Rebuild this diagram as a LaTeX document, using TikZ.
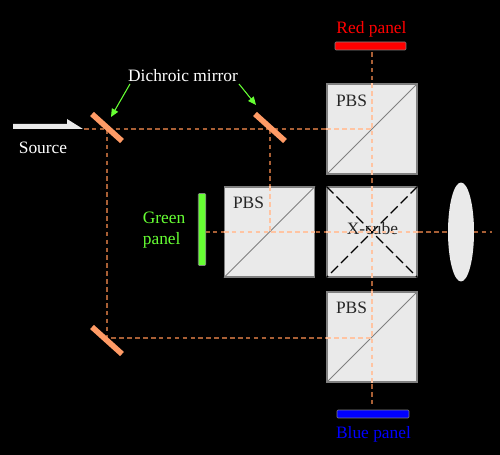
\documentclass[tikz,border=0pt]{standalone}
\usepackage{fontspec}
\setmainfont{Liberation Serif}
\usetikzlibrary{arrows.meta,shapes.geometric}
\definecolor{beamdark}{HTML}{A85F35}
\definecolor{beamlight}{HTML}{FFC4A2}
\definecolor{mirrorcol}{HTML}{FF9B66}
\definecolor{cubecol}{HTML}{EAEAEA}
\definecolor{edgecol}{HTML}{808080}
\definecolor{greencol}{HTML}{66FF33}
\begin{document}
\begin{tikzpicture}[x=0.02cm,y=-0.02cm]
\tikzset{
  label/.style={font=\fontsize{9.9pt}{11pt}\selectfont,inner sep=0pt,align=left},
  cubebox/.style={rectangle,draw=edgecol,fill=cubecol,line width=0.6pt,minimum size=1.8cm,inner sep=0pt},
  panel/.style={rectangle,rounded corners=0.5pt,draw=edgecol,line width=0.3pt,inner sep=0pt},
  mirror/.style={draw=mirrorcol,line width=3.2pt},
  beamout/.style={draw=beamdark,line width=0.6pt,dash pattern=on 2.6pt off 1.9pt},
  beamin/.style={draw=beamlight,line width=0.6pt,dash pattern=on 2.6pt off 1.9pt},
  pointer/.style={draw=greencol,line width=0.6pt,-{Triangle[length=4.6pt,width=4pt]}}
}
\fill[black] (0,0) rectangle (500,455);
\useasboundingbox (0,0) rectangle (500,455);
% beams under the cubes
\coordinate (in_a) at (84,129);
\coordinate (in_b) at (107,129);
\coordinate (in_c) at (270,129);
\coordinate (in_d) at (372,129);
\coordinate (low_a) at (107,338);
\coordinate (low_b) at (372,338);
\coordinate (mid_a) at (270,232);
\coordinate (mid_b) at (205,232);
\coordinate (mid_c) at (492,232);
\coordinate (top_a) at (372,52);
\coordinate (bot_a) at (372,407);
\draw[beamout] (in_a) -- (in_d);
\draw[beamout] (in_b) -- (low_a) -- (low_b);
\draw[beamout] (in_c) -- (mid_a);
\draw[beamout] (mid_b) -- (mid_c);
\draw[beamout] (top_a) -- (bot_a);
% cubes
\node[cubebox] (pbs_r) at (372,129) {};
\node[cubebox] (pbs_g) at (269.5,232) {};
\node[cubebox] (xcube) at (372,232) {};
\node[cubebox] (pbs_b) at (372,337) {};
\draw[edgecol,line width=0.45pt] (pbs_r.south west) -- (pbs_r.north east);
\draw[edgecol,line width=0.45pt] (pbs_g.south west) -- (pbs_g.north east);
\draw[edgecol,line width=0.45pt] (pbs_b.south west) -- (pbs_b.north east);
\draw[black,line width=0.75pt,dash pattern=on 5.6pt off 2.4pt] (xcube.north west) -- (xcube.south east);
\draw[black,line width=0.75pt,dash pattern=on 5.6pt off 2.4pt] (xcube.north east) -- (xcube.south west);
\node[label,text=black!85] (xcube_t) at (372.5,229) {X-cube};
\node[label,text=black!85] (pbs_rt) at (351.5,100.5) {PBS};
\node[label,text=black!85] (pbs_gt) at (248.5,202.5) {PBS};
\node[label,text=black!85] (pbs_bt) at (351.5,308) {PBS};
% beams inside the cubes
\draw[beamin] (pbs_r.west) -- (in_d);
\draw[beamin] (pbs_r.north) -- (pbs_r.south);
\draw[beamin] (pbs_g.west) -- (pbs_g.east);
\draw[beamin] (pbs_g.north -| mid_a) -- (mid_a);
\draw[beamin] (xcube.west) -- (xcube.east);
\draw[beamin] (xcube.north) -- (xcube.south);
\draw[beamin] (pbs_b.west |- low_b) -- (low_b);
\draw[beamin] (pbs_b.north) -- (pbs_b.south);
% lens and panels
\node[ellipse,fill=cubecol,inner sep=0pt,minimum width=0.52cm,minimum height=1.98cm] (lens) at (461,232) {};
\node[panel,fill=red,minimum width=1.42cm,minimum height=0.16cm] (red_p) at (370.5,46) {};
\node[panel,fill=blue,minimum width=1.44cm,minimum height=0.16cm] (blue_p) at (373,414) {};
\node[panel,fill=greencol,minimum width=0.15cm,minimum height=1.44cm] (green_p) at (202,229.5) {};
\node[label,text=red] (red_t) at (371.5,29.5) {Red panel};
\node[label,text=blue] (blue_t) at (373.5,434.5) {Blue panel};
\node[label,text=greencol,anchor=west] (green_t) at (142.5,230) {Green\\[1pt]panel};
% mirrors
\coordinate (m1_a) at (92,114);
\coordinate (m1_b) at (122,141);
\coordinate (m2_a) at (255,114);
\coordinate (m2_b) at (285,141);
\coordinate (m3_a) at (92,327);
\coordinate (m3_b) at (122,354);
\draw[mirror] (m1_a) -- (m1_b);
\draw[mirror] (m2_a) -- (m2_b);
\draw[mirror] (m3_a) -- (m3_b);
% source arrow
\fill[white!92!black] (13,124) -- (67,124) -- (67,119) -- (83,129) -- (13,129) -- cycle;
\node[label,text=white] (source_t) at (43,148) {Source};
\node[label,text=white] (dichroic) at (183,76) {Dichroic mirror};
\draw[pointer] (130,84) -- (111,117);
\draw[pointer] (239,84) -- (256,105);
\end{tikzpicture}
\end{document}
